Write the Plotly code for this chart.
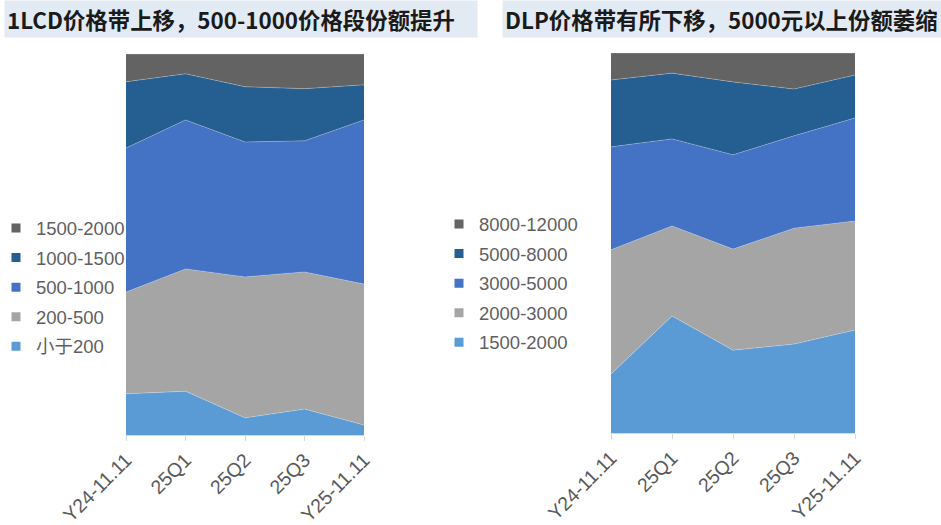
import plotly.graph_objects as go

categories = ["Y24-11.11", "25Q1", "25Q2", "25Q3", "Y25-11.11"]

# LCD price bands (share %, bottom to top)
lcd_names = ["小于200", "200-500", "500-1000", "1000-1500", "1500-2000"]
lcd_lt200 = [10.8, 11.5, 4.5, 6.8, 2.6]
lcd_200_500 = [26.7, 32.1, 37.0, 36.0, 37.0]
lcd_500_1000 = [37.8, 39.1, 35.4, 34.4, 43.1]
lcd_1000_1500 = [17.4, 12.1, 14.5, 13.7, 9.2]
lcd_1500_2000 = [7.3, 5.2, 8.6, 9.1, 8.1]

# DLP price bands (share %, bottom to top)
dlp_names = ["1500-2000", "2000-3000", "3000-5000", "5000-8000", "8000-12000"]
dlp_1500_2000 = [15.5, 30.8, 21.8, 23.4, 27.1]
dlp_2000_3000 = [32.7, 23.7, 26.6, 30.5, 28.7]
dlp_3000_5000 = [27.1, 22.9, 24.8, 24.3, 27.1]
dlp_5000_8000 = [17.6, 17.3, 19.2, 12.3, 11.3]
dlp_8000_12000 = [7.1, 5.3, 7.6, 9.5, 5.8]

title_left = "1LCD价格带上移，500-1000价格段份额提升"
title_right = "DLP价格带有所下移，5000元以上份额萎缩"

colors = ["#5B9BD5", "#A5A5A5", "#4472C4", "#255E91", "#636363"]

W, H = 941, 525
LABEL_FONT = "Liberation Sans, Arial, Noto Sans CJK SC, sans-serif"

fig = go.Figure()

def add_panel(names, series, xa, ya, stack, legend):
    for name, vals, col in zip(names, series, colors):
        fig.add_trace(go.Scatter(
            x=categories, y=vals, name=name, mode="lines",
            stackgroup=stack, groupnorm="percent",
            line=dict(width=0.7, color="rgba(255,255,255,0.35)"),
            fillcolor=col, xaxis=xa, yaxis=ya, showlegend=False,
            hovertemplate="%{x}: %{y:.1f}%<extra>" + name + "</extra>",
        ))
    # legend entries, top series first (as in the reference)
    for name, col in zip(names[::-1], colors[::-1]):
        fig.add_trace(go.Scatter(
            x=[None], y=[None], mode="markers", name=name,
            marker=dict(symbol="square", size=9, color=col),
            xaxis=xa, yaxis=ya, legend=legend, legendgroup=stack + name,
            showlegend=True,
        ))

add_panel(lcd_names, [lcd_lt200, lcd_200_500, lcd_500_1000, lcd_1000_1500, lcd_1500_2000],
          "x", "y", "lcd", "legend")
add_panel(dlp_names, [dlp_1500_2000, dlp_2000_3000, dlp_3000_5000, dlp_5000_8000, dlp_8000_12000],
          "x2", "y2", "dlp", "legend2")

xaxis_style = dict(
    type="category", range=[0, 4], tickangle=-45,
    ticks="outside", ticklen=5, tickcolor="#D9D9D9",
    showline=True, linecolor="#D9D9D9", linewidth=1,
    showgrid=False, zeroline=False, automargin=False,
    tickfont=dict(family=LABEL_FONT, size=19.5, color="#595959"),
)
yaxis_style = dict(range=[0, 100], visible=False, showgrid=False, zeroline=False)

legend_style = dict(
    orientation="v", traceorder="grouped", tracegroupgap=2.5,
    font=dict(family=LABEL_FONT, size=18.5, color="#5f5f5f"),
    bgcolor="rgba(0,0,0,0)", borderwidth=0,
    xanchor="left", yanchor="middle", itemclick=False, itemdoubleclick=False,
)

fig.update_layout(
    width=W, height=H,
    margin=dict(l=0, r=0, t=0, b=0, autoexpand=False),
    paper_bgcolor="white", plot_bgcolor="white",
    showlegend=True,
    xaxis=dict(domain=[126 / W, 364 / W], anchor="y", **xaxis_style),
    yaxis=dict(domain=[(H - 435) / H, (H - 54) / H], anchor="x", **yaxis_style),
    xaxis2=dict(domain=[611 / W, 855 / W], anchor="y2", **xaxis_style),
    yaxis2=dict(domain=[(H - 433) / H, (H - 53) / H], anchor="x2", **yaxis_style),
    legend=dict(x=-4 / W, y=1 - 287.5 / H, **legend_style),
    legend2=dict(x=439 / W, y=1 - 283.5 / H, **legend_style),
    annotations=[
        dict(xref="paper", yref="paper", x=4 / W, y=1,
             xanchor="left", yanchor="top", showarrow=False,
             text="<b>" + title_left + "</b>", align="left", valign="middle",
             width=468, height=32, borderpad=2, bgcolor="#E2EAF4",
             font=dict(family="Noto Sans CJK SC", size=22.4, color="#1a1a1a")),
        dict(xref="paper", yref="paper", x=502 / W, y=1,
             xanchor="left", yanchor="top", showarrow=False,
             text="<b>" + title_right + "</b>", align="left", valign="middle",
             width=435, height=32, borderpad=2, bgcolor="#E2EAF4",
             font=dict(family="Noto Sans CJK SC", size=22.4, color="#1a1a1a")),
    ],
)

fig.write_html("out.html", config={"displayModeBar": False},
               post_script="document.body.style.margin='0';")
